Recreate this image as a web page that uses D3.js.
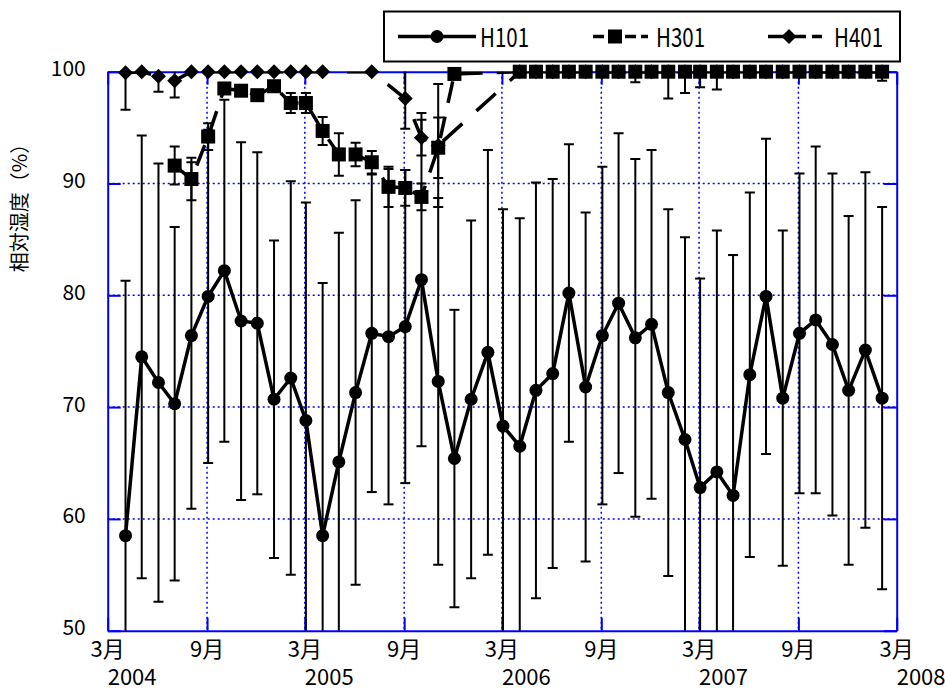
<!DOCTYPE html>
<html>
<head>
<meta charset="utf-8">
<script src="https://cdn.jsdelivr.net/npm/d3@7/dist/d3.min.js"></script>
<style>
    body { margin: 0; background: #fff; }
    text { font-family: "Noto Sans CJK JP", "Noto Sans", sans-serif; fill: #000; }
</style>
</head>
<body>
<div id="chart"></div>
<script>
// monthly values, April 2004 .. February 2008
var months = ["2004-04","2004-05","2004-06","2004-07","2004-08","2004-09","2004-10","2004-11","2004-12",
    "2005-01","2005-02","2005-03","2005-04","2005-05","2005-06","2005-07","2005-08","2005-09","2005-10","2005-11","2005-12",
    "2006-01","2006-02","2006-03","2006-04","2006-05","2006-06","2006-07","2006-08","2006-09","2006-10","2006-11","2006-12",
    "2007-01","2007-02","2007-03","2007-04","2007-05","2007-06","2007-07","2007-08","2007-09","2007-10","2007-11","2007-12",
    "2008-01","2008-02"];

var h101Mean = [58.5, 74.5, 72.2, 70.3, 76.4, 79.9, 82.2, 77.7, 77.5, 70.7,
    72.6, 68.8, 58.5, 65.1, 71.3, 76.6, 76.3, 77.2, 81.4, 72.3,
    65.4, 70.7, 74.9, 68.3, 66.5, 71.5, 73.0, 80.2, 71.8, 76.4,
    79.3, 76.2, 77.4, 71.3, 67.1, 62.8, 64.2, 62.1, 72.9, 79.9,
    70.8, 76.6, 77.8, 75.6, 71.5, 75.1, 70.8];
var h101Sd = [22.8, 19.8, 19.6, 15.8, 15.5, 14.9, 15.3, 16.0, 15.3, 14.2,
    17.6, 19.5, 22.6, 20.5, 17.2, 14.2, 15.0, 14.0, 14.9, 16.4,
    13.3, 16.0, 18.1, 19.4, 20.4, 18.6, 17.4, 13.3, 15.6, 15.1,
    15.2, 16.0, 15.6, 16.4, 18.1, 18.7, 21.6, 21.5, 16.3, 14.1,
    15.0, 14.3, 15.5, 15.3, 15.6, 15.9, 17.1];

var h301Mean = [null, null, null, 91.6, 90.4, 94.2, 98.5, 98.3, 97.9, 98.7,
    97.2, 97.2, 94.7, 92.6, 92.6, 91.9, 89.7, 89.6, 88.8, 93.2,
    99.8, null, null, null, 100, 100, 100, 100, 100, 100,
    100, 100, 100, 100, 100, 100, 100, 100, 100, 100,
    100, 100, 100, 100, 100, 100, 100];
var h301Sd = [0, 0, 0, 1.7, 1.9, 1.2, 0, 0, 0, 0,
    0.9, 0.9, 1.25, 1.9, 1.05, 1.0, 1.8, 1.6, 1.2, 2.7,
    0, 0, 0, 0, 0, 0, 0, 0, 0, 0,
    0, 0, 0, 0, 0, 0, 0, 0, 0, 0,
    0, 0, 0, 0, 0, 0, 0];

var h401Mean = [99.9, 100, 99.6, 99.2, 100, 100, 100, 100, 100, 100,
    100, 100, 100, null, null, 100, null, 97.6, 94.1, 93.4,
    null, null, null, null, 100, 100, 100, 100, 100, 100,
    100, 100, 100, 100, 100, 100, 100, 100, 100, 100,
    100, 100, 100, 100, 100, 100, 100];
var h401Sd = [3.3, 0, 1.4, 1.5, 0, 0, 0, 0, 0, 0,
    0, 0, 0, 0, 0, 0, 0, 2.7, 1.6, 5.5,
    0, 0, 0, 0, 0, 0, 0, 0, 0, 0,
    0, 0.95, 0, 2.4, 1.9, 1.4, 1.6, 0, 0, 0,
    0, 0, 0, 0, 0, 0, 0.8];

var yTicks = [50, 60, 70, 80, 90, 100];
var xTicks = ["2004-03","2004-09","2005-03","2005-09","2006-03","2006-09","2007-03","2007-09","2008-03"];
var xTickLabels = ["3月","9月","3月","9月","3月","9月","3月","9月","3月"];
var yearTicks = ["2004-03","2005-03","2006-03","2007-03","2008-03"];
var yearLabels = ["2004","2005","2006","2007","2008"];
var seriesNames = ["H101", "H301", "H401"];

var parseMonth = d3.timeParse("%Y-%m");

function HumidityChart() {
    var self = this;
    self.init();
}

/**
 * svg, scales and the plot frame
 */
HumidityChart.prototype.init = function () {
    var self = this;
    self.margin = { top: 71.7, right: 48.3, bottom: 60.3, left: 107.7 };
    self.svgWidth = 945;
    self.svgHeight = 691;
    self.width = self.svgWidth - self.margin.left - self.margin.right;
    self.height = self.svgHeight - self.margin.top - self.margin.bottom;

    self.svg = d3.select("#chart").append("svg")
        .attr("width", self.svgWidth)
        .attr("height", self.svgHeight);

    self.x = d3.scaleTime()
        .domain([parseMonth(xTicks[0]), parseMonth(xTicks[xTicks.length - 1])])
        .range([0, self.width]);
    self.y = d3.scaleLinear()
        .domain([50, 100])
        .range([self.height, 0]);

    self.g = self.svg.append("g")
        .attr("transform", "translate(" + self.margin.left + "," + self.margin.top + ")");

    self.svg.append("clipPath").attr("id", "plotClip")
        .append("rect")
        .attr("x", 0).attr("y", 0)
        .attr("width", self.width).attr("height", self.height);
};

HumidityChart.prototype.drawFrame = function () {
    var self = this;
    var g = self.g;
    var blue = "#0000ff";

    // dotted grid
    g.selectAll(".hgrid")
        .data(yTicks.slice(1, -1))
        .enter().append("line")
        .attr("x1", 0).attr("x2", self.width)
        .attr("y1", function (d) { return self.y(d); })
        .attr("y2", function (d) { return self.y(d); })
        .attr("stroke", blue).attr("stroke-width", 1.5)
        .attr("stroke-dasharray", "2,3");
    g.selectAll(".vgrid")
        .data(xTicks.slice(1, -1))
        .enter().append("line")
        .attr("x1", function (d) { return self.x(parseMonth(d)); })
        .attr("x2", function (d) { return self.x(parseMonth(d)); })
        .attr("y1", 0).attr("y2", self.height)
        .attr("stroke", blue).attr("stroke-width", 1.5)
        .attr("stroke-dasharray", "2,3");

    // axes with inside ticks, top/right mirrored
    var tick = 13;
    var bottom = d3.axisBottom(self.x).tickValues(xTicks.map(parseMonth))
        .tickSizeInner(-tick).tickSizeOuter(0).tickFormat("");
    var top = d3.axisTop(self.x).tickValues(xTicks.map(parseMonth))
        .tickSizeInner(-tick).tickSizeOuter(0).tickFormat("");
    var left = d3.axisLeft(self.y).tickValues(yTicks)
        .tickSizeInner(-tick).tickSizeOuter(0).tickFormat("");
    var right = d3.axisRight(self.y).tickValues(yTicks)
        .tickSizeInner(-tick).tickSizeOuter(0).tickFormat("");

    g.append("g").attr("transform", "translate(0," + self.height + ")").call(bottom);
    g.append("g").call(top);
    g.append("g").call(left);
    g.append("g").attr("transform", "translate(" + self.width + ",0)").call(right);
    g.selectAll(".domain, .tick line").attr("stroke", blue).attr("stroke-width", 2);

    // tick labels
    g.selectAll(".ylab")
        .data(yTicks)
        .enter().append("text")
        .attr("x", -22)
        .attr("y", function (d) { return self.y(d) + 4.5; })
        .attr("text-anchor", "end")
        .attr("font-size", 21)
        .text(function (d) { return d; });

    g.selectAll(".xlab")
        .data(xTicks)
        .enter().append("text")
        .attr("x", function (d) { return self.x(parseMonth(d)); })
        .attr("y", self.height + 26)
        .attr("text-anchor", "middle")
        .attr("font-size", 22)
        .text(function (d, i) { return xTickLabels[i]; });

    g.selectAll(".yearlab")
        .data(yearTicks)
        .enter().append("text")
        .attr("x", function (d) { return self.x(parseMonth(d)); })
        .attr("y", self.height + 54)
        .attr("text-anchor", "start")
        .attr("font-size", 22)
        .text(function (d, i) { return yearLabels[i]; });

    self.svg.append("text")
        .attr("transform", "translate(27,203) rotate(-90)")
        .attr("text-anchor", "middle")
        .attr("font-size", 20)
        .text("相対湿度（%）");
};

// marker shapes
function drawMarker(sel, shape) {
    if (shape === "circle") {
        sel.append("circle").attr("r", 6.5).attr("fill", "#000");
    } else if (shape === "square") {
        sel.append("rect").attr("x", -7).attr("y", -7).attr("width", 14).attr("height", 14).attr("fill", "#000");
    } else {
        sel.append("path").attr("d", "M0,-7.5L7.5,0L0,7.5L-7.5,0Z").attr("fill", "#000");
    }
}

HumidityChart.prototype.drawSeries = function (means, sds, shape, dash) {
    var self = this;
    // points sit a couple of days into the month
    var data = months.map(function (m, i) {
        return { date: d3.timeDay.offset(parseMonth(m), 2), mean: means[i], sd: sds[i] };
    }).filter(function (d) { return d.mean !== null; });

    var clipped = self.g.append("g").attr("clip-path", "url(#plotClip)");

    // error bars
    var bars = data.filter(function (d) { return d.sd > 0; });
    var eb = clipped.selectAll(".eb")
        .data(bars)
        .enter().append("g")
        .attr("transform", function (d) { return "translate(" + self.x(d.date) + ",0)"; });
    eb.append("line")
        .attr("x1", 0).attr("x2", 0)
        .attr("y1", function (d) { return self.y(d.mean + d.sd); })
        .attr("y2", function (d) { return self.y(d.mean - d.sd); })
        .attr("stroke", "#000").attr("stroke-width", 2);
    [1, -1].forEach(function (sign) {
        eb.append("line")
            .attr("x1", -5).attr("x2", 5)
            .attr("y1", function (d) { return self.y(d.mean + sign * d.sd); })
            .attr("y2", function (d) { return self.y(d.mean + sign * d.sd); })
            .attr("stroke", "#000").attr("stroke-width", 2);
    });

    // line joins across missing months
    var line = d3.line()
        .x(function (d) { return self.x(d.date); })
        .y(function (d) { return self.y(d.mean); });
    clipped.append("path")
        .datum(data)
        .attr("d", line)
        .attr("fill", "none")
        .attr("stroke", "#000")
        .attr("stroke-width", 3.5)
        .attr("stroke-dasharray", dash || null);

    self.g.selectAll(".m-" + shape)
        .data(data)
        .enter().append("g")
        .attr("transform", function (d) { return "translate(" + self.x(d.date) + "," + self.y(d.mean) + ")"; })
        .each(function () { drawMarker(d3.select(this), shape); });
};

HumidityChart.prototype.drawLegend = function () {
    var self = this;
    var lg = self.svg.append("g");
    lg.append("rect")
        .attr("x", 384).attr("y", 11.5)
        .attr("width", 516).attr("height", 50)
        .attr("fill", "#fff").attr("stroke", "#000").attr("stroke-width", 2);

    var items = [
        { x1: 398, x2: 476, mx: 437, tx: 480, shape: "circle", dash: null },
        { x1: 593, x2: 648, mx: 615, tx: 656, shape: "square", dash: "11,5" },
        { x1: 768, x2: 822, mx: 789, tx: 834, shape: "diamond", dash: "16,6" }
    ];
    items.forEach(function (it, i) {
        lg.append("line")
            .attr("x1", it.x1).attr("x2", it.x2)
            .attr("y1", 36.5).attr("y2", 36.5)
            .attr("stroke", "#000").attr("stroke-width", 3.5)
            .attr("stroke-dasharray", it.dash);
        drawMarker(lg.append("g").attr("transform", "translate(" + it.mx + ",36.5)"), it.shape);
        lg.append("text")
            .attr("x", it.tx).attr("y", 46.5)
            .attr("font-size", 26)
            .attr("textLength", 49)
            .attr("lengthAdjust", "spacingAndGlyphs")
            .text(seriesNames[i]);
    });
};

var chart = new HumidityChart();
chart.drawFrame();
chart.drawSeries(h101Mean, h101Sd, "circle", null);
chart.drawSeries(h401Mean, h401Sd, "diamond", "26,19");
chart.drawSeries(h301Mean, h301Sd, "square", "22,14");
chart.drawLegend();
</script>
</body>
</html>
